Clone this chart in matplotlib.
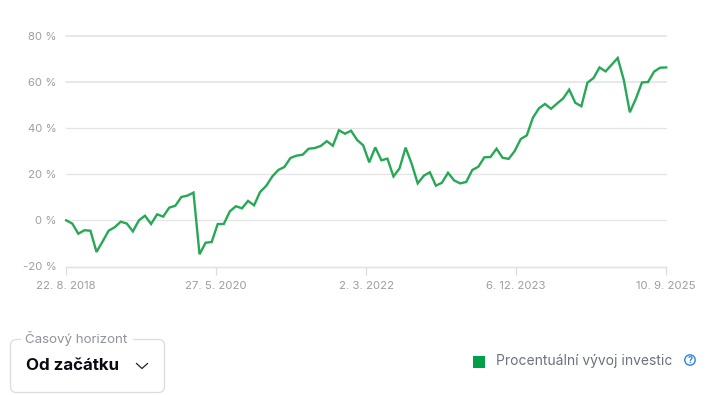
import matplotlib
matplotlib.use('Agg')
import matplotlib.pyplot as plt
from matplotlib.patches import FancyBboxPatch, Rectangle, Circle

plt.rcParams['font.family'] = ['Inter', 'DejaVu Sans']

W, H = 709, 395

# percent change per step
values = [
    0, -1.4, -5.8, -4.3, -4.5, -13.7, -9.2, -4.5, -3, -0.6,
    -1.4, -4.8, 0, 2, -1.6, 2.6, 1.6, 5.5, 6.3, 10.1,
    10.7, 12, -14.7, -9.7, -9.4, -1.6, -1.6, 3.9, 6.1, 5.2,
    8.4, 6.5, 12.3, 14.9, 19, 21.8, 23.1, 27, 28, 28.4,
    31, 31.3, 32.2, 34.3, 32.3, 39, 37.5, 38.8, 34.8, 32.5,
    25.1, 31.6, 26, 26.7, 19, 22.5, 31.5, 24.5, 16, 19.3,
    20.8, 15, 16.3, 20.6, 17.3, 16, 16.6, 21.8, 23.2,
    27.3, 27.4, 31, 27.1, 26.6, 30, 35.2, 36.8, 44.4, 48.5,
    50.4, 48.3, 50.6, 52.8, 56.6, 50.9, 49.4, 59.6, 61.6, 66.2,
    64.5, 67.4, 70.3, 60.8, 46.8, 52.7, 59.7, 59.9, 64.4, 66.1,
    66.2,
]
y_ticks = [-20, 0, 20, 40, 60, 80]
x_ticks = [0, 24.75, 49.5, 74.25, 99]
x_labels = ['22. 8. 2018', '27. 5. 2020', '2. 3. 2022', '6. 12. 2023', '10. 9. 2025']

fig = plt.figure(figsize=(W / 100, H / 100), dpi=100)
left, right, top, bottom = 66.2, 666.2, 35.6, 266.5
ax = fig.add_axes([left / W, 1 - bottom / H, (right - left) / W, (bottom - top) / H])
ax.set_xlim(0, 99)
ax.set_ylim(-20, 80)
ax.patch.set_alpha(0)

for s in ['top', 'right', 'left']:
    ax.spines[s].set_visible(False)
ax.spines['bottom'].set_color('#e2e2e2')
ax.spines['bottom'].set_linewidth(1)

for t in y_ticks:
    lw = 1.2 if t >= 60 else 0.9
    ax.axhline(t, color='#e4e4e4', lw=lw, zorder=1, clip_on=False)

ax.plot(range(len(values)), values, color='#27a855', lw=1.7, zorder=3, clip_on=False,
        solid_joinstyle='miter')

ax.set_yticks(y_ticks)
ax.set_yticklabels([f'{t} %' for t in y_ticks])
ax.set_xticks(x_ticks)
ax.set_xticklabels(x_labels)
ax.tick_params(axis='y', length=0, pad=7, labelsize=8.2, labelcolor='#9a9ea6')
ax.tick_params(axis='x', length=6, width=0.9, color='#dcdcdc', pad=4.5, labelsize=8.2, labelcolor='#9a9ea6')

# dropdown and legend, in pixel coordinates
ov = fig.add_axes([0, 0, 1, 1])
ov.set_xlim(0, W)
ov.set_ylim(H, 0)
ov.axis('off')
ov.patch.set_alpha(0)

box = FancyBboxPatch((10.5, 339.5), 154, 53, boxstyle='round,pad=0,rounding_size=6',
                     fc='white', ec='#dcdcdc', lw=0.9)
ov.add_patch(box)
ov.add_patch(Rectangle((21, 336), 112, 6, fc='white', ec='none', zorder=3))
ov.text(25, 339, 'Časový horizont', fontsize=9.6, color='#8f939b', va='center', zorder=4)
ov.text(26, 366, 'Od začátku', fontsize=12.2, fontweight='bold', color='#0a0a14', va='center')
ov.plot([136.5, 142, 147.5], [363.5, 368.5, 363.5], color='#222222', lw=0.9)

ov.add_patch(Rectangle((473, 356), 12, 12, fc='#00a04a', ec='none'))
ov.text(495.5, 361.5, 'Procentuální vývoj investic', fontsize=10, color='#6d7280', va='center')
ov.add_patch(Circle((690, 360), 5.2, fc='white', ec='#2f80e0', lw=1))
ov.text(690, 360.3, '?', fontsize=6.5, color='#2f80e0', ha='center', va='center', fontweight='bold')

fig.savefig('out.png', dpi=100)
